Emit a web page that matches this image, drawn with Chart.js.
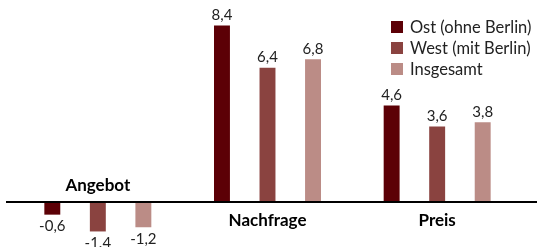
<!DOCTYPE html>
<html><head><meta charset="utf-8">
<script src="https://cdn.jsdelivr.net/npm/chart.js@4/dist/chart.umd.min.js"></script>
<style>html,body{margin:0;padding:0;background:#fff;overflow:hidden}#wrap{width:537px;height:247px;position:relative}</style>
</head><body><div id="wrap"><canvas id="c" width="537" height="247"></canvas></div>
<script>
const categories = ["Angebot", "Nachfrage", "Preis"];
const seriesNames = ["Ost (ohne Berlin)", "West (mit Berlin)", "Insgesamt"];
const ost = [-0.6, 8.4, 4.6];
const west = [-1.4, 6.4, 3.6];
const insgesamt = [-1.2, 6.8, 3.8];
const ostLabels = ["-0,6", "8,4", "4,6"];
const westLabels = ["-1.4", "6,4", "3,6"];
const insgesamtLabels = ["-1,2", "6,8", "3,8"];
const colors = ["#5c0006", "#8a4340", "#bb8c86"];

const valueLabels = [ostLabels, westLabels, insgesamtLabels];
const FONT = "Lato, 'Open Sans', sans-serif";

const overlay = {
  id: 'overlay',
  afterDatasetsDraw(chart) {
    const ctx = chart.ctx;
    const x = chart.scales.x, y = chart.scales.y;
    const y0 = y.getPixelForValue(0);
    ctx.save();
    // baseline
    ctx.strokeStyle = '#000';
    ctx.lineWidth = 2;
    ctx.beginPath();
    ctx.moveTo(6, y0);
    ctx.lineTo(chart.width, y0);
    ctx.stroke();
    // value labels
    ctx.fillStyle = '#222';
    ctx.font = '15px ' + FONT;
    ctx.textAlign = 'center';
    ctx.textBaseline = 'middle';
    chart.data.datasets.forEach((ds, i) => {
      const meta = chart.getDatasetMeta(i);
      meta.data.forEach((bar, j) => {
        const v = ds.data[j];
        const ty = v >= 0 ? bar.y - 10 : bar.y + 12;
        ctx.fillText(valueLabels[i][j], bar.x, ty);
      });
    });
    // category labels
    ctx.fillStyle = '#000';
    ctx.font = 'bold 17px ' + FONT;
    categories.forEach((c, j) => {
      const neg = ost[j] < 0;
      const cx = x.getPixelForValue(j);
      ctx.fillText(c, cx, neg ? y0 - 17 : y0 + 18);
    });
    // legend
    ctx.font = '16.5px ' + FONT;
    ctx.textAlign = 'left';
    seriesNames.forEach((n, i) => {
      const ly = 27 + i * 21;
      ctx.fillStyle = colors[i];
      ctx.fillRect(391, ly - 6, 12, 12);
      ctx.fillStyle = '#222';
      ctx.fillText(n, 410, ly + 1);
    });
    ctx.restore();
  }
};

new Chart(document.getElementById('c'), {
  type: 'bar',
  data: {
    labels: categories,
    datasets: [
      { label: seriesNames[0], data: ost, backgroundColor: colors[0] },
      { label: seriesNames[1], data: west, backgroundColor: colors[1] },
      { label: seriesNames[2], data: insgesamt, backgroundColor: colors[2] }
    ]
  },
  options: {
    responsive: false,
    animation: false,
    events: [],
    layout: { padding: { left: 13, right: 15, top: 0, bottom: 0 } },
    categoryPercentage: 0.805,
    barPercentage: 0.35,
    plugins: { legend: { display: false }, tooltip: { enabled: false } },
    scales: {
      x: { display: false },
      y: { display: false, min: -2.14, max: 9.62 }
    }
  },
  plugins: [overlay]
});
</script></body></html>
